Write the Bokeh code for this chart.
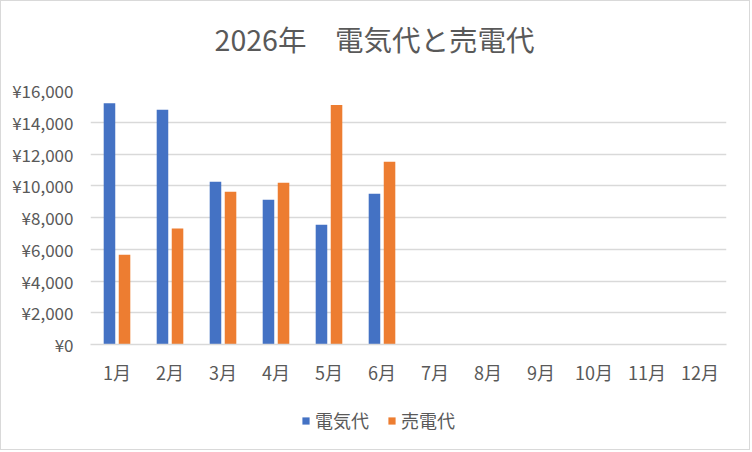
from bokeh.plotting import figure
from bokeh.layouts import column
from bokeh.models import FactorRange, Range1d, FixedTicker, ColumnDataSource, Label
from bokeh.transform import dodge
from bokeh.embed import file_html
from bokeh.resources import INLINE

months = ["1月", "2月", "3月", "4月", "5月", "6月", "7月", "8月", "9月", "10月", "11月", "12月"]
electricity = [15200, 14780, 10250, 9120, 7550, 9500, None, None, None, None, None, None]
sold = [5660, 7300, 9620, 10190, 15090, 11510, None, None, None, None, None, None]
series_names = ["電気代", "売電代"]
series_colors = ["#4472C4", "#ED7D31"]
y_ticks = [0, 2000, 4000, 6000, 8000, 10000, 12000, 14000, 16000]
y_tick_labels = ["¥0", "¥2,000", "¥4,000", "¥6,000", "¥8,000", "¥10,000", "¥12,000", "¥14,000", "¥16,000"]
title_text = "2026年\u3000電気代と売電代"

FONT = "Noto Sans CJK JP"
GRAY = "#595959"
GRID = "#d9d9d9"
W = 748

src = ColumnDataSource(dict(
    month=months,
    elec=[v if v is not None else float("nan") for v in electricity],
    sold=[v if v is not None else float("nan") for v in sold],
))

# --- title strip (frame is aligned with the main chart's frame by the column layout)
pt = figure(width=W, height=60, x_range=Range1d(0, 1), y_range=Range1d(0, 1),
            min_border=0, output_backend="svg", toolbar_location=None)
pt.axis.visible = False
pt.grid.visible = False
pt.outline_line_color = None
pt.add_layout(Label(x=284, y=23, x_units="screen", y_units="screen", text=title_text,
                    text_align="center", text_baseline="middle", text_font=FONT,
                    text_font_size="28.5px", text_color=GRAY))

# --- main chart
p = figure(x_range=FactorRange(*months), y_range=Range1d(0, 16000),
           width=W, height=338,
           min_border_left=89, min_border_right=23, min_border_top=29, min_border_bottom=55,
           output_backend="svg", toolbar_location=None)

p.vbar(x=dodge("month", -0.142, range=p.x_range), top="elec", width=0.218, source=src,
       fill_color=series_colors[0], line_color=None)
p.vbar(x=dodge("month", 0.142, range=p.x_range), top="sold", width=0.218, source=src,
       fill_color=series_colors[1], line_color=None)

p.outline_line_color = None
p.xgrid.grid_line_color = None
p.ygrid.grid_line_color = GRID
p.ygrid.grid_line_width = 1.5
p.ygrid.ticker = FixedTicker(ticks=y_ticks)

p.yaxis.ticker = FixedTicker(ticks=y_ticks)
p.yaxis.major_label_overrides = {t: l for t, l in zip(y_ticks, y_tick_labels)}
p.yaxis.axis_line_color = None
p.yaxis.major_tick_line_color = None
p.yaxis.minor_tick_line_color = None
p.yaxis.major_tick_out = 0
p.yaxis.major_tick_in = 0
p.yaxis.major_label_standoff = 17
p.yaxis.major_label_text_font = FONT
p.yaxis.major_label_text_font_size = "17px"
p.yaxis.major_label_text_color = GRAY

p.xaxis.axis_line_color = GRID
p.xaxis.axis_line_width = 1.5
p.xaxis.major_tick_line_color = None
p.xaxis.minor_tick_line_color = None
p.xaxis.major_tick_out = 0
p.xaxis.major_tick_in = 0
p.xaxis.major_label_standoff = 14
p.xaxis.major_label_text_font = FONT
p.xaxis.major_label_text_font_size = "18px"
p.xaxis.major_label_text_color = GRAY

# --- legend strip
pl = figure(width=W, height=50, x_range=Range1d(0, 1), y_range=Range1d(0, 1),
            min_border=0, output_backend="svg", toolbar_location=None)
pl.axis.visible = False
pl.grid.visible = False
pl.outline_line_color = None
key_src = ColumnDataSource(dict(name=series_names, color=series_colors,
                                x=[float("nan")] * len(series_names),
                                top=[float("nan")] * len(series_names)))
pl.vbar(x="x", top="top", width=0.1, fill_color="color", line_color=None,
        source=key_src, legend_field="name")
legend = pl.legend[0]
legend.orientation = "horizontal"
legend.location = (211, 16)
legend.glyph_width = 9
legend.glyph_height = 9
legend.label_standoff = 5
legend.spacing = 18
legend.label_text_font = FONT
legend.label_text_font_size = "18px"
legend.label_text_color = GRAY
legend.border_line_color = None
legend.background_fill_alpha = 0
legend.padding = 4
legend.margin = 0

layout = column(pt, p, pl, spacing=0,
                styles={"border": "1px solid #d9d9d9"})

open("out.html", "w").write(file_html(layout, INLINE))
